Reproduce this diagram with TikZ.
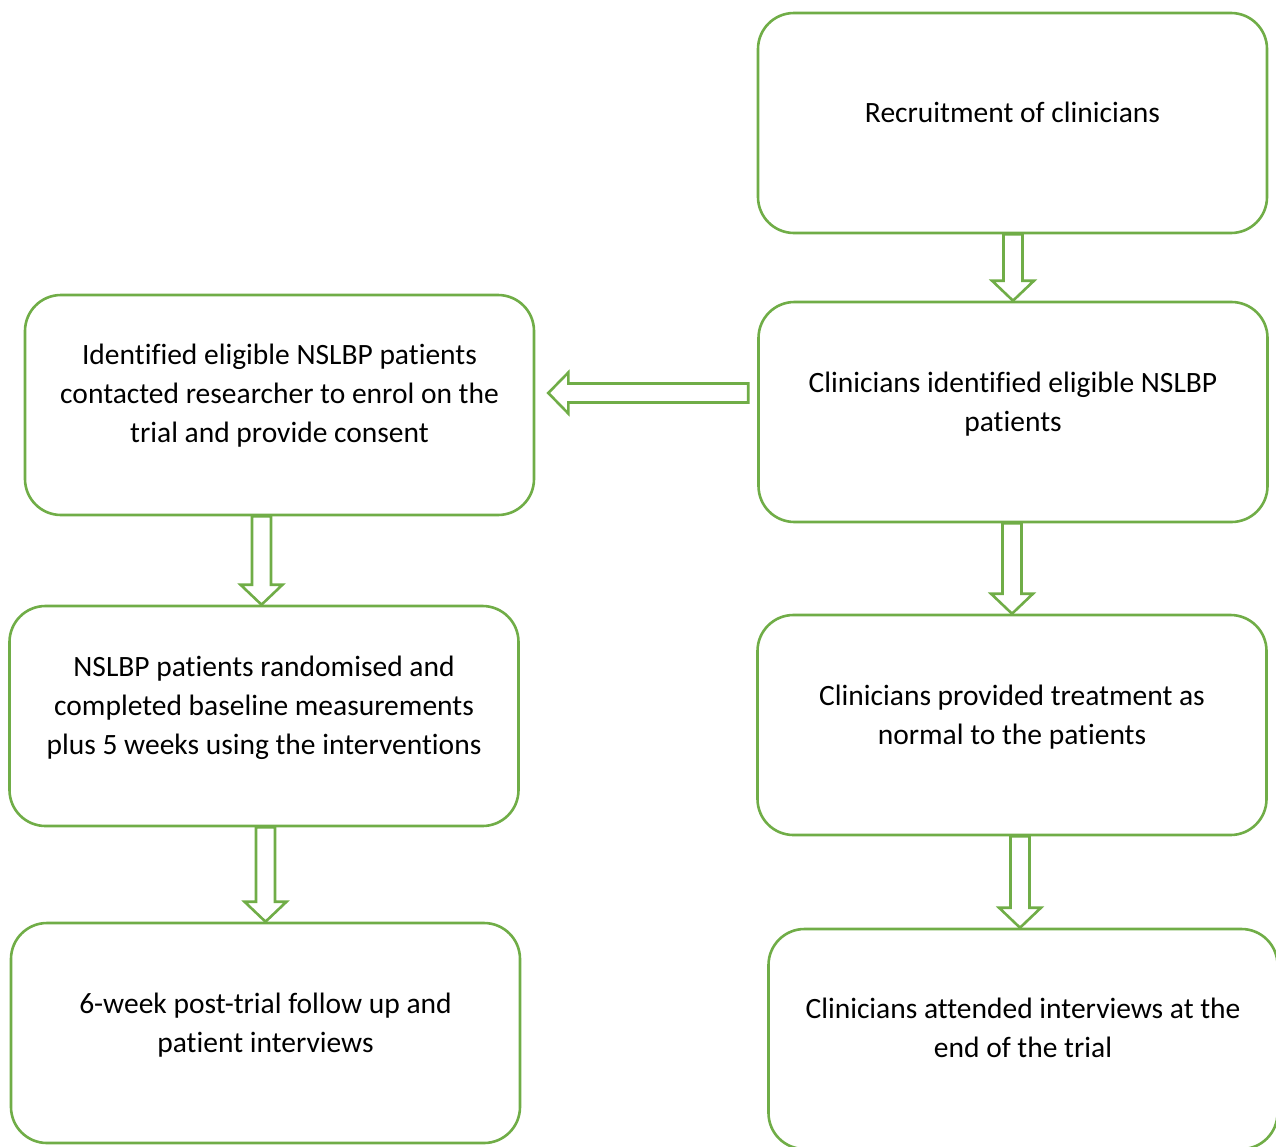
\documentclass[tikz,border=0pt]{standalone}
\usepackage{fontspec}
\setmainfont{Carlito}[RawFeature={-liga;-clig;-calt;-dlig}]
\usetikzlibrary{calc}
\definecolor{leaf}{HTML}{70AD47}

% vertical block arrow from #1 (top of shaft) down to #2 (tip)
\newcommand\downblock[2]{%
  \draw[barrow] let \p1=#1, \p2=#2 in
    (\x2-9.5pt,\y1) -- (\x2-9.5pt,\y2+20pt) -- (\x2-21pt,\y2+20pt) -- (\x2,\y2)
    -- (\x2+21pt,\y2+20pt) -- (\x2+9.5pt,\y2+20pt) -- (\x2+9.5pt,\y1) -- cycle;}
% horizontal block arrow from #1 (right end of shaft) left to #2 (tip)
\newcommand\leftblock[2]{%
  \draw[barrow] let \p1=#1, \p2=#2 in
    (\x1,\y1+9.5pt) -- (\x2+20pt,\y1+9.5pt) -- (\x2+20pt,\y1+20.5pt) -- (\x2,\y1)
    -- (\x2+20pt,\y1-20.5pt) -- (\x2+20pt,\y1-9.5pt) -- (\x1,\y1-9.5pt) -- cycle;}

\tikzset{
  box/.style={draw=leaf, line width=2.6pt, rounded corners=36pt, fill=white,
    minimum width=509pt, minimum height=220pt, inner sep=0pt},
  txt/.style={align=center, font=\fontsize{29.5}{39}\selectfont, text=black},
  barrow/.style={draw=leaf, line width=2.6pt, fill=white, line join=miter},
}

\begin{document}
\begin{tikzpicture}[x=1pt,y=-1pt]
\useasboundingbox (0,0) rectangle (1276,1146);

% right column
\node[box] (b1) at (1012.5,123) {};
\node[txt] at ([yshift=11pt]b1.center) {Recruitment of clinicians};
\node[box] (b2) at (1013,412) {};
\node[txt] at ([yshift=8pt]b2.center) {Clinicians identified eligible NSLBP\\patients};
\node[box] (b6) at (1012,725) {};
\node[txt] at ([yshift=8pt]b6.center) {Clinicians provided treatment as\\normal to the patients};
\node[box] (b7) at (1023,1039) {};
\node[txt] at ([yshift=11pt]b7.center) {Clinicians attended interviews at the\\end of the trial};

% left column
\node[box] (b3) at (279.5,405) {};
\node[txt] at ([yshift=9pt]b3.center) {Identified eligible NSLBP patients\\contacted researcher to enrol on the\\trial and provide consent};
\node[box] (b4) at (264,716) {};
\node[txt] at ([yshift=8pt]b4.center) {NSLBP patients randomised and\\completed baseline measurements\\plus 5 weeks using the interventions};
\node[box] (b5) at (265.5,1033) {};
\node[txt] at ([yshift=8pt]b5.center) {6-week post-trial follow up and\\patient interviews};

% connectors
\downblock{(b1.south)}{(b2.north)}
\downblock{(b2.south)}{(b6.north)}
\downblock{(b6.south)}{([xshift=-3pt]b7.north)}
\downblock{(b3.south)}{([xshift=-18pt]b3.south |- b4.north)}
\downblock{(b4.south)}{(b5.north)}
\leftblock{([xshift=-9pt,yshift=19pt]b2.west)}{([xshift=13pt,yshift=19pt]b2.west -| b3.east)}

\end{tikzpicture}
\end{document}
